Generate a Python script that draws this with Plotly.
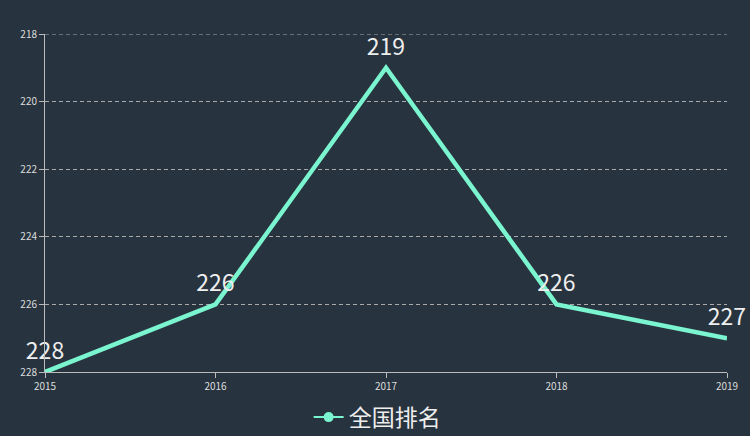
import plotly.graph_objects as go

# data
years = ['2015', '2016', '2017', '2018', '2019']
ranks = [228, 226, 219, 226, 227]
y_ticks = [218, 220, 222, 224, 226, 228]

bg = '#27333e'
line_color = '#7af5cf'
font_family = 'Noto Sans CJK SC, Noto Sans, sans-serif'

fig = go.Figure()
fig.add_trace(go.Scatter(
    x=years, y=ranks,
    name='全国排名',
    mode='lines+markers+text',
    line=dict(color=line_color, width=4.5),
    marker=dict(size=10, color=line_color, opacity=0),
    text=[str(v) for v in ranks],
    textposition='top center',
    textfont=dict(size=23, color='#eeeeee', family=font_family),
    cliponaxis=False,
    showlegend=False,
))
# legend entry (line with dot)
fig.add_trace(go.Scatter(
    x=[None], y=[None], name='全国排名', mode='lines+markers',
    line=dict(color=line_color, width=2),
    marker=dict(size=10, color=line_color),
))

# top grid line (plotly drops the one on the plot edge)
fig.add_hline(y=y_ticks[0], line=dict(color='#aaaaaa', width=1, dash='4px,3px'), layer='below')

fig.update_layout(
    width=750, height=436,
    paper_bgcolor=bg, plot_bgcolor=bg,
    margin=dict(l=45, r=23, t=34, b=64, autoexpand=False),
    font=dict(family=font_family, color='#dddddd'),
    showlegend=True,
    legend=dict(orientation='h', x=0.487, xanchor='center', y=-0.07, yanchor='top',
                font=dict(size=23, color='#eeeeee'), itemwidth=30,
                bgcolor='rgba(0,0,0,0)'),
)

fig.update_xaxes(
    type='category', range=[0, 4], showgrid=False, zeroline=False,
    showline=True, linecolor='#bbbbbb', linewidth=1,
    ticks='outside', ticklen=5, tickcolor='#bbbbbb',
    tickfont=dict(size=10, color='#dddddd'),
)
fig.update_yaxes(
    range=[228, 218], tickvals=y_ticks, zeroline=False,
    showgrid=True, gridcolor='#aaaaaa', griddash='4px,3px', gridwidth=1,
    showline=True, linecolor='#bbbbbb', linewidth=1,
    ticks='outside', ticklen=5, tickcolor='#bbbbbb',
    tickfont=dict(size=10, color='#dddddd'),
)

fig.write_html('out.html', config={'displayModeBar': False},
               post_script="document.body.style.margin='0';")
